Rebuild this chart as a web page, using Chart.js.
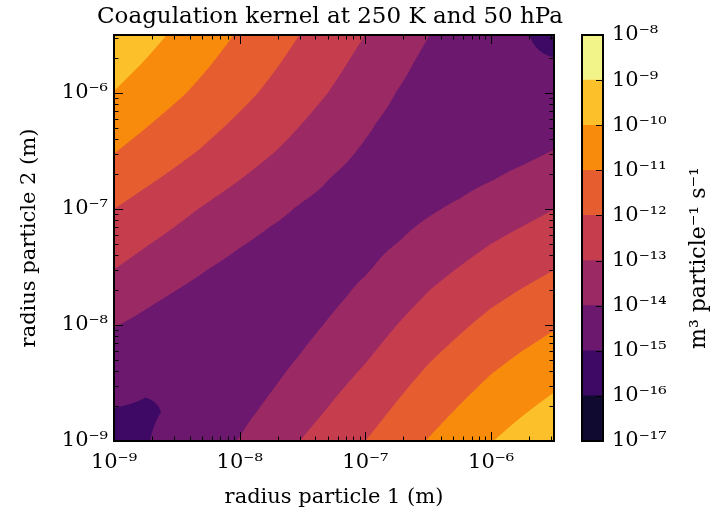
<!DOCTYPE html>
<html><head><meta charset="utf-8">
<script src="https://cdn.jsdelivr.net/npm/chart.js@4.4.1/dist/chart.umd.min.js"></script>
<style>
html,body{margin:0;padding:0;background:#fff;}
#wrap{position:relative;width:715px;height:520px;background:#fff;}
#main{position:absolute;left:0;top:0;}
#cbar{position:absolute;left:560px;top:0;}
</style></head><body>
<div id="wrap"><canvas id="main" width="715" height="520"></canvas><canvas id="cbar" width="155" height="520"></canvas></div>
<script>
// ---- data ----
// log10 of the radius grid nodes (m), same for particle 1 and particle 2
const radiusGridExp = [-9, -8.75, -8.5, -8.25, -8, -7.75, -7.5, -7.25, -7, -6.75, -6.5, -6.25, -6, -5.75, -5.5];
// log10 of the kernel (m^3 particle^-1 s^-1); row j = particle-2 node, entries i = 0..j (kernel is symmetric)
const kernelExpLowerTri = [
  [-15.20],
  [-15.04, -15.08],
  [-14.76, -14.92, -14.97],
  [-14.38, -14.62, -14.78, -14.83],
  [-13.96, -14.23, -14.51, -14.66, -14.71],
  [-13.46, -13.80, -14.09, -14.37, -14.54, -14.59],
  [-12.96, -13.32, -13.66, -13.97, -14.25, -14.44, -14.50],
  [-12.48, -12.85, -13.20, -13.55, -13.87, -14.15, -14.35, -14.42],
  [-12.00, -12.38, -12.75, -13.12, -13.47, -13.79, -14.09, -14.30, -14.40],
  [-11.48, -11.86, -12.24, -12.63, -13.00, -13.38, -13.73, -14.06, -14.32, -14.45],
  [-10.96, -11.35, -11.74, -12.14, -12.54, -12.94, -13.33, -13.75, -14.10, -14.41, -14.57],
  [-10.50, -10.90, -11.31, -11.72, -12.14, -12.57, -12.99, -13.42, -13.86, -14.25, -14.56, -14.72],
  [-10.03, -10.45, -10.87, -11.30, -11.74, -12.19, -12.64, -13.09, -13.54, -14.02, -14.42, -14.72, -14.87],
  [-9.62, -10.06, -10.50, -10.95, -11.41, -11.87, -12.34, -12.81, -13.28, -13.76, -14.23, -14.60, -14.87, -14.96],
  [-9.24, -9.69, -10.15, -10.62, -11.09, -11.57, -12.05, -12.53, -13.01, -13.51, -13.98, -14.41, -14.75, -14.975, -15.09]
];
const levelExps = [-17, -16, -15, -14, -13, -12, -11, -10, -9, -8];
const axisTickExps = [-9, -8, -7, -6];
const xTickLabels = ['10⁻⁹', '10⁻⁸', '10⁻⁷', '10⁻⁶'];
const yTickLabels = ['10⁻⁹', '10⁻⁸', '10⁻⁷', '10⁻⁶'];
const cbTickLabels = ['10⁻¹⁷','10⁻¹⁶','10⁻¹⁵','10⁻¹⁴','10⁻¹³','10⁻¹²','10⁻¹¹','10⁻¹⁰','10⁻⁹','10⁻⁸'];
const titleText = 'Coagulation kernel at 250 K and 50 hPa';
const xTitle = 'radius particle 1 (m)';
const yTitle = 'radius particle 2 (m)';
const cbTitle = 'm³ particle⁻¹ s⁻¹';

// ---- styles ----
const levelColors = ['#110a30','#3d0965','#6b186e','#9b2964','#c63d4e','#e65d2f','#f88b0c','#fbc02a','#f2f389'];
const FONT = 'DejaVu Serif';

// full symmetric table built from the triangle
const nG = radiusGridExp.length;
const kernelGrid = [];
for (let j = 0; j < nG; j++) {
  kernelGrid.push([]);
  for (let i = 0; i < nG; i++) {
    kernelGrid[j].push(i <= j ? kernelExpLowerTri[j][i] : kernelExpLowerTri[i][j]);
  }
}
const gridPoints = [];
for (let j = 0; j < nG; j++) for (let i = 0; i < nG; i++)
  gridPoints.push({x: Math.pow(10, radiusGridExp[i]), y: Math.pow(10, radiusGridExp[j]), k: kernelGrid[j][i]});

function hexToRgb(h){ return [parseInt(h.slice(1,3),16), parseInt(h.slice(3,5),16), parseInt(h.slice(5,7),16)]; }
function gridIndex(e){
  if (e <= radiusGridExp[0]) return 0;
  for (let k = 0; k < nG - 1; k++) {
    if (e <= radiusGridExp[k+1]) return k + (e - radiusGridExp[k]) / (radiusGridExp[k+1] - radiusGridExp[k]);
  }
  return nG - 1;
}
function kernelAt(gx, gy){
  let i0 = Math.min(Math.floor(gx), nG - 2), j0 = Math.min(Math.floor(gy), nG - 2);
  const tx = gx - i0, ty = gy - j0;
  const a = kernelGrid[j0][i0], b = kernelGrid[j0][i0+1], c = kernelGrid[j0+1][i0], d = kernelGrid[j0+1][i0+1];
  return (a*(1-tx) + b*tx)*(1-ty) + (c*(1-tx) + d*tx)*ty;
}

const contourPlugin = {
  id: 'contourFill',
  beforeDatasetsDraw(chart){
    const {ctx, chartArea: a, scales: {x, y}} = chart;
    const L = Math.round(a.left), T = Math.round(a.top);
    const W = Math.round(a.right) - L, H = Math.round(a.bottom) - T;
    const SS = 3;
    const colG = new Float64Array(W*SS), rowG = new Float64Array(H*SS);
    for (let k = 0; k < W*SS; k++) colG[k] = gridIndex(Math.log10(x.getValueForPixel(L + (k + 0.5)/SS)));
    for (let k = 0; k < H*SS; k++) rowG[k] = gridIndex(Math.log10(y.getValueForPixel(T + (k + 0.5)/SS)));
    const rgb = levelColors.map(hexToRgb);
    const img = ctx.createImageData(W, H);
    const nb = levelColors.length;
    for (let py = 0; py < H; py++) {
      for (let px = 0; px < W; px++) {
        let r = 0, g = 0, b = 0;
        for (let sy = 0; sy < SS; sy++) {
          const gy = rowG[py*SS + sy];
          for (let sx = 0; sx < SS; sx++) {
            const v = kernelAt(colG[px*SS + sx], gy);
            let band = Math.floor(v - levelExps[0]);
            if (band < 0) band = 0; if (band > nb - 1) band = nb - 1;
            const c = rgb[band]; r += c[0]; g += c[1]; b += c[2];
          }
        }
        const o = (py*W + px)*4, n = SS*SS;
        img.data[o] = r/n; img.data[o+1] = g/n; img.data[o+2] = b/n; img.data[o+3] = 255;
      }
    }
    ctx.putImageData(img, L, T);
  }
};

const framePlugin = {
  id: 'frameTicks',
  afterDatasetsDraw(chart){
    const {ctx, chartArea: a, scales: {x, y}} = chart;
    ctx.save();
    ctx.strokeStyle = '#000';
    ctx.lineWidth = 1;
    const maxV = x.max * 1.0001;
    for (let e = -9; e <= -6; e++) {
      for (let m = 1; m <= 9; m++) {
        const v = m * Math.pow(10, e);
        if (v > maxV) continue;
        const len = m === 1 ? 9 : 4.5;
        const px = Math.round(x.getPixelForValue(v)) + 0.5;
        const py = Math.round(y.getPixelForValue(v)) + 0.5;
        ctx.beginPath();
        ctx.moveTo(px, a.bottom); ctx.lineTo(px, a.bottom - len);
        ctx.moveTo(px, a.top); ctx.lineTo(px, a.top + len);
        ctx.moveTo(a.left, py); ctx.lineTo(a.left + len, py);
        ctx.moveTo(a.right, py); ctx.lineTo(a.right - len, py);
        ctx.stroke();
      }
    }
    ctx.lineWidth = 2;
    ctx.strokeRect(a.left, a.top, a.right - a.left, a.bottom - a.top);
    ctx.fillStyle = '#000';
    ctx.font = '23px "' + FONT + '"';
    ctx.textAlign = 'center';
    ctx.textBaseline = 'alphabetic';
    ctx.fillText(titleText, (a.left + a.right)/2 - 4, 23);
    ctx.restore();
  }
};

function axisTickCallback(labels){
  return function(value){
    const e = Math.log10(value), k = Math.round(e);
    if (Math.abs(e - k) < 1e-6) { const idx = axisTickExps.indexOf(k); return idx >= 0 ? labels[idx] : ''; }
    return '';
  };
}

new Chart(document.getElementById('main'), {
  type: 'scatter',
  data: { datasets: [{ data: gridPoints, pointRadius: 0, pointHoverRadius: 0, showLine: false }] },
  options: {
    responsive: false, animation: false, devicePixelRatio: 1, events: [],
    layout: { padding: { left: 0, right: 161, top: 35, bottom: 0 } },
    plugins: { legend: { display: false }, tooltip: { enabled: false } },
    scales: {
      x: {
        type: 'logarithmic', min: 1e-9, max: Math.pow(10, -5.5),
        grid: { display: false, drawTicks: false }, border: { display: false },
        ticks: { autoSkip: false, maxRotation: 0, minRotation: 0, padding: 9, color: '#000',
                 font: { family: FONT, size: 21 }, callback: axisTickCallback(xTickLabels) },
        title: { display: true, text: xTitle, color: '#000', font: { family: FONT, size: 21 }, padding: { top: 0, bottom: 10 } },
        afterFit(s){ s.height = 79; }
      },
      y: {
        type: 'logarithmic', min: 1e-9, max: Math.pow(10, -5.5),
        grid: { display: false, drawTicks: false }, border: { display: false },
        ticks: { autoSkip: false, padding: 6, color: '#000',
                 font: { family: FONT, size: 21 }, callback: axisTickCallback(yTickLabels) },
        title: { display: true, text: yTitle, color: '#000', font: { family: FONT, size: 21 }, padding: { top: 17, bottom: 0 } },
        afterFit(s){ s.width = 114; }
      }
    }
  },
  plugins: [contourPlugin, framePlugin]
});

const cbPlugin = {
  id: 'cbFrame',
  afterDatasetsDraw(chart){
    const {ctx, chartArea: a, scales: {y}} = chart;
    ctx.save();
    ctx.strokeStyle = '#000';
    ctx.lineWidth = 1;
    levelExps.forEach(e => {
      const py = Math.round(y.getPixelForValue(e)) + 0.5;
      ctx.beginPath(); ctx.moveTo(a.right, py); ctx.lineTo(a.right - 7, py); ctx.stroke();
    });
    ctx.lineWidth = 2;
    ctx.strokeRect(a.left, a.top, a.right - a.left, a.bottom - a.top);
    ctx.fillStyle = '#000';
    ctx.font = '22px "' + FONT + '"';
    ctx.textAlign = 'center';
    ctx.textBaseline = 'middle';
    ctx.translate(139, 258);
    ctx.rotate(-Math.PI/2);
    ctx.fillText(cbTitle, 0, 0);
    ctx.restore();
  }
};

new Chart(document.getElementById('cbar'), {
  type: 'bar',
  data: {
    labels: ['kernel'],
    datasets: levelColors.map((col, k) => ({
      data: [[levelExps[k], levelExps[k+1]]], backgroundColor: col, borderWidth: 0,
      barPercentage: 1, categoryPercentage: 1, grouped: false
    }))
  },
  options: {
    responsive: false, animation: false, devicePixelRatio: 1, events: [],
    layout: { padding: { left: 22, right: 0, top: 35, bottom: 79 } },
    plugins: { legend: { display: false }, tooltip: { enabled: false } },
    scales: {
      x: { display: false },
      y: {
        position: 'right', min: levelExps[0], max: levelExps[levelExps.length - 1],
        grid: { display: false, drawTicks: false }, border: { display: false },
        ticks: { stepSize: 1, padding: 9, color: '#000', font: { family: FONT, size: 21 },
                 callback: v => { const i = levelExps.indexOf(v); return i >= 0 ? cbTickLabels[i] : ''; } },
        afterFit(s){ s.width = 112; }
      }
    }
  },
  plugins: [cbPlugin]
});
</script>
</body></html>
